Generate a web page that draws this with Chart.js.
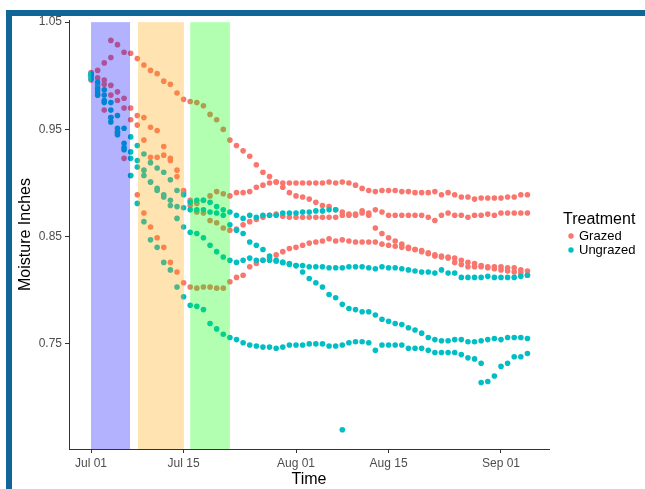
<!DOCTYPE html>
<html>
<head>
<meta charset="utf-8">
<script src="https://cdn.jsdelivr.net/npm/chart.js@4.4.0/dist/chart.umd.min.js"></script>
<style>
html,body{margin:0;padding:0;background:#fff;}
#wrap{position:relative;width:645px;height:489px;}
canvas{display:block;}
</style>
</head>
<body>
<div id="wrap"><canvas id="c" width="645" height="489"></canvas></div>
<script>
// ---- data (day 0 = Jul 01) ----
const days = [0,1,2,3,4,5,6,7,8,9,10,11,12,13,14,15,16,17,18,19,20,21,22,23,24,25,26,27,28,29,30,31,32,33,34,35,36,37,38,39,40,41,42,43,44,45,46,47,48,49,50,51,52,53,54,55,56,57,58,59,60,61,62,63,64,65,66];

const tickDays = [0, 14, 31, 45, 62];
const tickLabels = ['Jul 01', 'Jul 15', 'Aug 01', 'Aug 15', 'Sep 01'];
const yTicks = [0.75, 0.85, 0.95, 1.05];

const treatments = ['Grazed', 'Ungrazed'];
const treatmentColors = ['#F8766D', '#00BFC4'];

// Grazed sensors
const grazedA = [1.003,1.005,1.012,1.033,1.029,1.022,1.021,1.016,1.010,1.005,
  1.002,0.995,0.992,0.984,0.978,0.976,0.975,0.972,0.964,0.959,
  0.950,0.940,0.935,0.930,0.925,0.917,0.910,0.906,0.901,0.900,
  0.900,0.900,0.900,0.900,0.900,0.900,0.901,0.900,0.901,0.900,
  0.898,0.895,0.893,0.892,0.893,0.893,0.893,0.892,0.892,0.891,
  0.891,0.891,0.892,0.889,0.891,0.889,0.887,0.887,0.885,0.886,
  0.886,0.886,0.886,0.887,0.887,0.889,0.889];
const grazedB = [1.001,0.998,0.996,0.991,0.985,0.979,0.970,0.963,0.961,0.952,
  0.949,0.934,0.921,0.906,0.891,0.884,0.881,0.884,0.888,0.892,
  0.890,0.888,0.891,0.891,0.892,0.896,0.898,0.900,0.901,0.896,
  0.891,0.888,0.887,0.885,0.882,0.879,0.878,0.875,0.873,0.871,
  0.871,0.874,0.872,0.875,0.873,0.870,0.870,0.870,0.870,0.870,
  0.870,0.868,0.865,0.870,0.872,0.870,0.870,0.868,0.870,0.870,
  0.871,0.870,0.872,0.872,0.872,0.872,0.872];
const grazedC = [0.998,0.991,0.992,0.982,0.977,0.970,0.959,0.954,0.940,0.924,
  0.924,0.926,0.923,0.912,0.893,0.879,0.873,0.872,0.865,0.863,
  0.858,0.856,0.857,0.861,0.864,0.866,0.868,0.870,0.871,0.869,
  0.868,0.868,0.868,0.868,0.868,0.868,0.868,0.868,0.870,0.870,
  0.870,0.872,0.870,0.858,0.853,0.849,0.846,0.843,0.840,0.838,
  0.837,0.834,0.832,0.831,0.830,0.826,0.824,0.822,0.822,0.822,
  0.821,0.820,0.819,0.818,0.817,0.816,0.814];
const grazedD = [0.996,0.982,0.968,0.961,0.948,0.923,0.907,0.889,0.872,0.859,
  0.849,0.840,0.826,0.817,0.807,0.803,0.802,0.803,0.803,0.802,
  0.802,0.808,0.812,0.814,0.822,0.825,0.828,0.830,0.833,0.836,
  0.839,0.840,0.842,0.844,0.845,0.846,0.848,0.846,0.847,0.846,
  0.845,0.845,0.845,0.845,0.843,0.842,0.841,0.840,0.839,0.838,
  0.836,0.835,0.833,0.832,0.831,0.830,0.828,0.826,0.825,0.823,
  0.822,0.822,0.822,0.821,0.821,0.819,0.818];
const grazedExtraDays = [3];
const grazedExtraValues = [1.017];

// Ungrazed sensors
const ungrazedA = [1.002,0.994,0.987,0.975,0.963,0.951,0.943,0.935,0.927,0.919,
  0.914,0.910,0.903,0.893,0.889,0.882,0.884,0.884,0.882,0.878,
  0.875,0.873,0.870,0.867,0.870,0.868,0.870,0.870,0.870,0.872,
  0.872,0.872,0.873,0.873,0.874,0.874,0.875,0.875,0.670,null,
  null,null,null,null,null,null,null,null,null,null,
  null,null,null,null,null,null,null,null,null,null,
  null,null,null,null,null,null,null];
const ungrazedB = [1.000,0.988,0.982,0.968,0.951,0.937,0.929,0.921,0.912,0.901,
  0.895,0.889,0.884,0.878,0.877,0.875,0.875,0.875,0.873,0.872,
  0.870,0.861,0.856,0.853,0.845,0.842,0.838,0.832,0.828,0.826,
  0.825,0.823,0.817,0.811,0.807,0.803,0.796,0.793,0.787,0.783,
  0.782,0.780,0.780,0.777,0.773,0.771,0.769,0.768,0.765,0.763,
  0.760,0.756,0.754,0.753,0.753,0.754,0.754,0.752,0.752,0.753,
  0.754,0.755,0.754,0.756,0.756,0.756,0.755];
const ungrazedC = [0.997,0.982,0.977,0.961,0.945,0.933,0.923,0.915,0.907,0.901,
  0.893,0.887,0.879,0.867,0.859,0.854,0.853,0.849,0.842,0.836,
  0.831,0.828,0.826,0.828,0.830,0.828,0.828,0.828,0.827,0.826,
  0.824,0.823,0.823,0.822,0.822,0.822,0.821,0.821,0.821,0.822,
  0.822,0.822,0.821,0.820,0.822,0.821,0.821,0.820,0.819,0.818,
  0.817,0.817,0.816,0.819,0.816,0.816,0.812,0.812,0.812,0.812,
  0.813,0.812,0.812,0.812,0.812,0.813,0.814];
const ungrazedD = [1.001,0.985,0.975,0.957,0.947,0.931,0.907,0.881,0.864,0.847,
  0.840,0.826,0.819,0.803,0.794,0.786,0.785,0.782,0.769,0.764,
  0.759,0.756,0.754,0.751,0.749,0.748,0.747,0.747,0.746,0.747,
  0.749,0.749,0.749,0.750,0.750,0.750,0.748,0.748,0.749,0.751,
  0.752,0.752,0.751,0.744,0.749,0.749,0.749,0.749,0.746,0.746,
  0.746,0.744,0.742,0.742,0.742,0.742,0.740,0.737,0.736,0.714,
  0.715,0.720,0.729,0.732,0.738,0.738,0.741];
const ungrazedExtraDays = [59];
const ungrazedExtraValues = [0.732];

// Shaded periods (in days since Jul 01)
const bandStarts = [0, 7.1, 15.0];
const bandEnds = [5.9, 14.05, 21.0];
const bandColors = ['rgba(0,0,255,0.3)', 'rgba(255,165,0,0.3)', 'rgba(0,255,0,0.3)'];
const bandTop = 1.05;

// ---- build points ----
function buildPoints(tracks, exDays, exVals) {
  const pts = [];
  tracks.forEach(tr => tr.forEach((v, i) => { if (v !== null) pts.push({x: days[i], y: v}); }));
  exDays.forEach((d, i) => pts.push({x: d, y: exVals[i]}));
  return pts;
}
const grazedPts = buildPoints([grazedA, grazedB, grazedC, grazedD], grazedExtraDays, grazedExtraValues);
const ungrazedPts = buildPoints([ungrazedA, ungrazedB, ungrazedC, ungrazedD], ungrazedExtraDays, ungrazedExtraValues);

const FONT = '"Liberation Sans", Arial, Helvetica, sans-serif';

const decorPlugin = {
  id: 'decor',
  beforeDraw(chart) {
    const ctx = chart.ctx;
    ctx.save();
    ctx.fillStyle = '#ffffff';
    ctx.fillRect(0, 0, chart.width, chart.height);
    ctx.fillStyle = '#0f6697';
    ctx.fillRect(6, 10, chart.width - 6, 6);
    ctx.fillRect(6, 10, 6, chart.height - 10);
    ctx.restore();
  },
  afterDatasetsDraw(chart) {
    const {ctx, chartArea, scales} = chart;
    ctx.save();
    ctx.beginPath();
    ctx.rect(chartArea.left, chartArea.top, chartArea.right - chartArea.left, chartArea.bottom - chartArea.top);
    ctx.clip();
    const yTop = scales.y.getPixelForValue(bandTop);
    bandStarts.forEach((s, i) => {
      const x0 = scales.x.getPixelForValue(s);
      const x1 = scales.x.getPixelForValue(bandEnds[i]);
      ctx.fillStyle = bandColors[i];
      ctx.fillRect(x0, yTop, x1 - x0, chartArea.bottom - yTop);
    });
    ctx.restore();
  },
  afterDraw(chart) {
    const {ctx, chartArea} = chart;
    ctx.save();
    ctx.fillStyle = '#000000';
    ctx.font = '16px ' + FONT;
    ctx.textAlign = 'center';
    ctx.textBaseline = 'middle';
    ctx.fillText('Time', (chartArea.left + chartArea.right) / 2, 480);
    ctx.save();
    ctx.translate(26, (chartArea.top + chartArea.bottom) / 2);
    ctx.rotate(-Math.PI / 2);
    ctx.fillText('Moisture Inches', 0, 0);
    ctx.restore();
    // legend
    ctx.textAlign = 'left';
    ctx.font = '16px ' + FONT;
    ctx.fillText('Treatment', 563, 220);
    ctx.font = '13px ' + FONT;
    treatments.forEach((t, i) => {
      const yy = 236 + i * 14;
      ctx.fillStyle = treatmentColors[i];
      ctx.beginPath();
      ctx.arc(571, yy, 2.7, 0, Math.PI * 2);
      ctx.fill();
      ctx.fillStyle = '#000000';
      ctx.fillText(t, 579, yy);
    });
    ctx.restore();
  }
};

new Chart(document.getElementById('c'), {
  type: 'scatter',
  data: {
    datasets: [
      {label: treatments[0], data: grazedPts, backgroundColor: treatmentColors[0], borderWidth: 0, pointRadius: 2.8, order: 1},
      {label: treatments[1], data: ungrazedPts, backgroundColor: treatmentColors[1], borderWidth: 0, pointRadius: 2.8, order: 0}
    ]
  },
  options: {
    responsive: false,
    devicePixelRatio: 1,
    animation: false,
    events: [],
    layout: {padding: {left: 0, top: 20, right: 96, bottom: 0}},
    plugins: {legend: {display: false}, tooltip: {enabled: false}},
    scales: {
      x: {
        type: 'linear',
        min: -3.33,
        max: 69.26,
        afterBuildTicks(scale) { scale.ticks = tickDays.map(v => ({value: v})); },
        afterFit(scale) { scale.height = 40; },
        ticks: {
          autoSkip: false, maxRotation: 0, padding: 3,
          color: '#4d4d4d', font: {family: FONT, size: 12},
          callback(value) { const i = tickDays.indexOf(value); return i >= 0 ? tickLabels[i] : ''; }
        },
        grid: {display: true, drawOnChartArea: false, drawTicks: true, tickLength: 4, color: '#333333'},
        border: {display: true, color: '#333333', width: 1}
      },
      y: {
        type: 'linear',
        min: 0.652,
        max: 1.052,
        afterBuildTicks(scale) { scale.ticks = yTicks.map(v => ({value: v})); },
        afterFit(scale) { scale.width = 69; },
        ticks: {
          padding: 3, color: '#4d4d4d', font: {family: FONT, size: 12},
          callback(value) { return Number(value).toFixed(2); }
        },
        grid: {display: true, drawOnChartArea: false, drawTicks: true, tickLength: 4, color: '#333333'},
        border: {display: true, color: '#333333', width: 1}
      }
    }
  },
  plugins: [decorPlugin]
});
</script>
</body>
</html>
